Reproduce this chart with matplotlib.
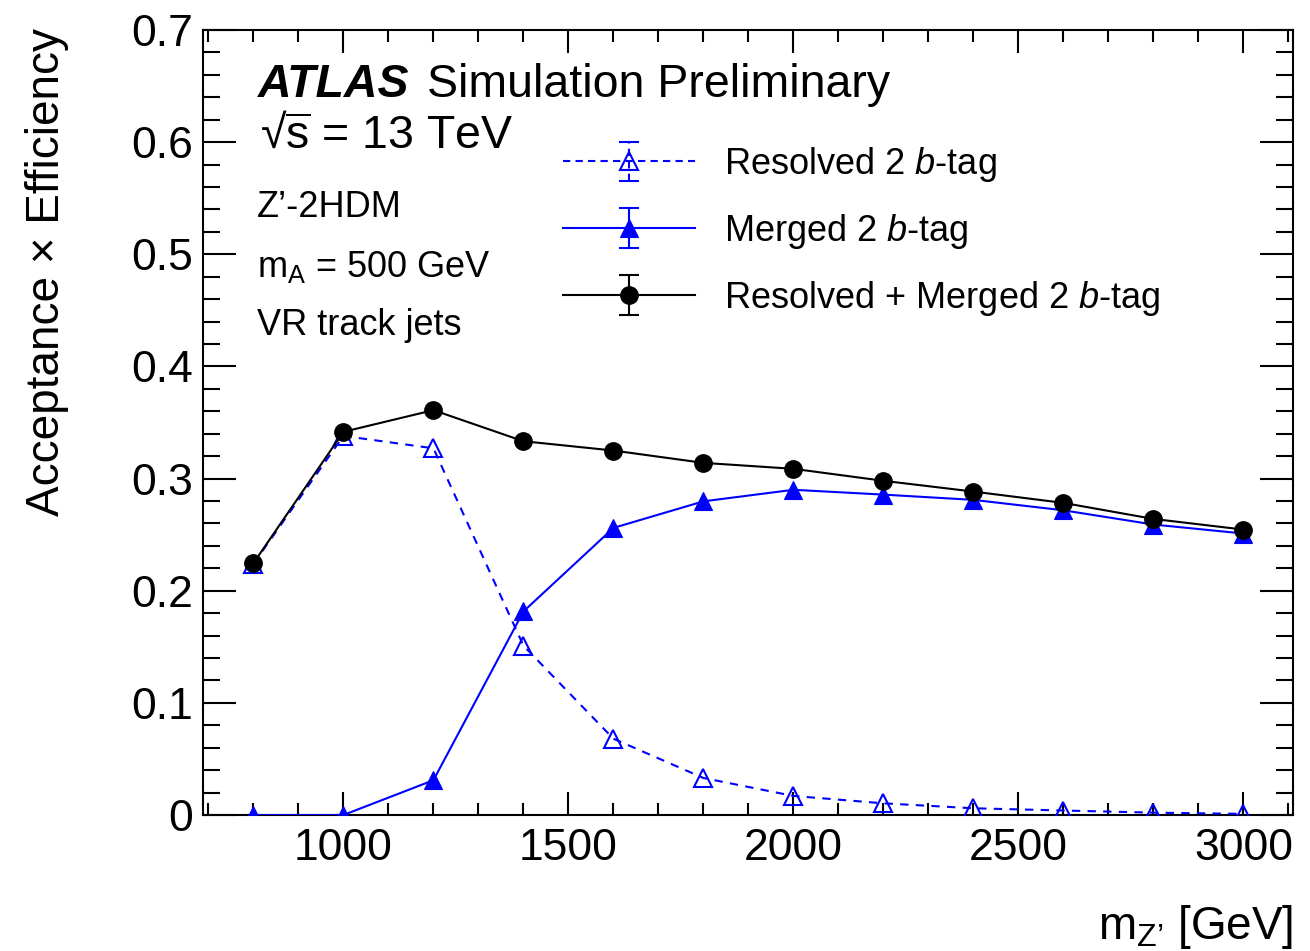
import matplotlib
matplotlib.use("Agg")
import matplotlib.pyplot as plt
import numpy as np
from matplotlib.lines import Line2D
from matplotlib.collections import LineCollection
from matplotlib.container import ErrorbarContainer
from matplotlib.legend_handler import HandlerErrorbar
from matplotlib.ticker import MultipleLocator, FixedLocator, FixedFormatter

# ---------------- data ----------------
mass = [800, 1000, 1200, 1400, 1600, 1800, 2000, 2200, 2400, 2600, 2800, 3000]
resolved = [0.224, 0.338, 0.327, 0.151, 0.068, 0.033, 0.017, 0.0104, 0.006, 0.004, 0.0021, 0.001]
merged = [0.0, 0.0, 0.031, 0.1815, 0.256, 0.2797, 0.290, 0.2857, 0.281, 0.2717, 0.259, 0.251]
combined = [0.2245, 0.3417, 0.361, 0.3333, 0.325, 0.314, 0.3087, 0.298, 0.2884, 0.2783, 0.264, 0.2545]

labels = ["Resolved 2 $\\mathit{b}$-tag", "Merged 2 $\\mathit{b}$-tag",
          "Resolved + Merged 2 $\\mathit{b}$-tag"]
xticks = [1000, 1500, 2000, 2500, 3000]
yticks = [0, 0.1, 0.2, 0.3, 0.4, 0.5, 0.6, 0.7]
yticklabels = ["0", "0.1", "0.2", "0.3", "0.4", "0.5", "0.6", "0.7"]

# ---------------- style ----------------
plt.rcParams['font.family'] = ['Liberation Sans', 'DejaVu Sans']
plt.rcParams['mathtext.fontset'] = 'custom'
plt.rcParams['mathtext.rm'] = 'Liberation Sans'
plt.rcParams['mathtext.it'] = 'Liberation Sans:italic'
plt.rcParams['mathtext.bf'] = 'Liberation Sans:bold'

W, H = 1310, 951
fig = plt.figure(figsize=(W / 100, H / 100), dpi=100)
ax_l, ax_r, ax_t, ax_b = 203, 1293, 30, 815
ax = fig.add_axes([ax_l / W, 1 - ax_b / H, (ax_r - ax_l) / W, (ax_b - ax_t) / H])

blue = '#0000ff'
ms_tri = 13
ms_circ = 12.5

ax.plot(mass, merged, color=blue, lw=1.5, marker='^', ms=ms_tri, mfc=blue, mec=blue, mew=0.8, zorder=3)
ax.plot(mass, resolved, color=blue, lw=1.5, ls=(0, (4, 3.5)), marker='^', ms=ms_tri,
        mfc='none', mec=blue, mew=1.5, zorder=3)
ax.plot(mass, combined, color='black', lw=1.5, marker='o', ms=ms_circ, mfc='black', mec='black', zorder=4)

ax.set_xlim(688, 3110)
ax.set_ylim(0, 0.7)
ax.xaxis.set_major_locator(FixedLocator(xticks))
ax.xaxis.set_minor_locator(MultipleLocator(100))
ax.yaxis.set_major_locator(FixedLocator(yticks))
ax.yaxis.set_major_formatter(FixedFormatter(yticklabels))
ax.yaxis.set_minor_locator(MultipleLocator(0.02))

for s in ax.spines.values():
    s.set_linewidth(1.5)
ax.tick_params(axis='both', which='both', direction='in', top=True, right=True, width=1.5)
ax.tick_params(axis='y', which='major', length=23.5, pad=7, labelsize=32)
ax.tick_params(axis='y', which='minor', length=12)
ax.tick_params(axis='x', which='major', length=16.5, pad=9, labelsize=32)
ax.tick_params(axis='x', which='minor', length=8.5)

# axis titles
fig.text(47 / W, 1 - 28 / H, "Acceptance \u00d7 Efficiency", rotation=90,
         ha='center', va='top', fontsize=33)
fig.text(1293 / W, 1 - 939 / H, "$\\mathregular{m_{Z\u2019}}$ [GeV]", ha='right',
         va='baseline', fontsize=33)

# labels
def axy(py):
    return (ax_b - py) / (ax_b - ax_t)

def axx(px):
    return (px - ax_l) / (ax_r - ax_l)

ax.text(axx(258), axy(97), "ATLAS", transform=ax.transAxes, fontsize=33.5,
        fontweight='bold', fontstyle='italic', va='baseline')
ax.text(axx(427), axy(97), "Simulation Preliminary", transform=ax.transAxes,
        fontsize=33.5, va='baseline')
ax.text(axx(260), axy(148), "\u221a$\\overline{\\mathregular{s}}$ = 13 TeV", transform=ax.transAxes,
        fontsize=33.5, va='baseline')
ax.text(axx(257), axy(217), "Z\u2019-2HDM", transform=ax.transAxes, fontsize=26, va='baseline')
ax.text(axx(257), axy(277), "$\\mathregular{m_A}$ = 500 GeV", transform=ax.transAxes,
        fontsize=26, va='baseline')
ax.text(axx(257), axy(335), "VR track jets", transform=ax.transAxes, fontsize=26, va='baseline')

# legend proxies (error-bar style entries)
def proxy(color, ls, marker, ms, mfc, mew):
    line = Line2D([], [], color=color, lw=1.5, ls=ls, marker=marker, ms=ms,
                  mfc=mfc, mec=color, mew=mew)
    cap = Line2D([], [], color=color, marker='_', ms=14.5, mew=1.5, ls='none')
    bars = LineCollection([], colors=color, linewidths=1.5, linestyles=ls)
    return ErrorbarContainer((line, (cap, cap), (bars,)), has_xerr=False, has_yerr=True)

h_res = proxy(blue, (0, (3.5, 2.5)), '^', 12.5, 'none', 1.5)
h_mer = proxy(blue, '-', '^', 12.5, blue, 0.8)
h_com = proxy('black', '-', 'o', ms_circ, 'black', 1.0)

leg = ax.legend([h_res, h_mer, h_com], labels, loc='upper left',
                bbox_to_anchor=(axx(563), axy(145)), frameon=False, fontsize=26,
                borderpad=0, borderaxespad=0, handlelength=3.66, handletextpad=0.8,
                labelspacing=0.77, numpoints=1,
                handler_map={ErrorbarContainer: HandlerErrorbar(yerr_size=0.55)})

fig.savefig("out.png", dpi=100)
